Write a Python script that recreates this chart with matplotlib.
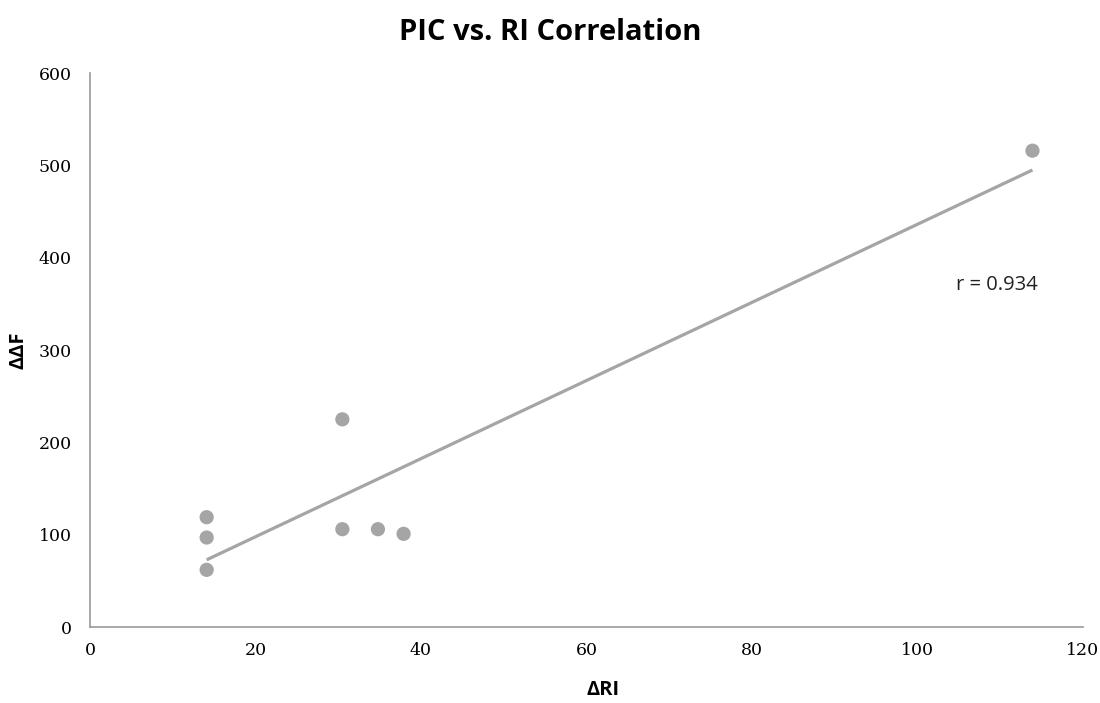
import numpy as np
import matplotlib
matplotlib.use("Agg")
import matplotlib.pyplot as plt

# data
delta_ri = [14.1, 14.1, 14.1, 30.5, 30.5, 34.8, 37.9, 113.9]
delta_df = [62, 97, 119, 225, 106, 106, 101, 516]
r_text = "r = 0.934"

x_ticks = [0, 20, 40, 60, 80, 100, 120]
y_ticks = [0, 100, 200, 300, 400, 500, 600]

grey = "#a5a5a5"

fig = plt.figure(figsize=(11, 7.03), dpi=100)
ax = fig.add_axes([0.0818, 0.108, 0.9027, 0.788])

ax.scatter(delta_ri, delta_df, s=105, color=grey, edgecolors="none", zorder=3)

# linear trendline over data range
k, b = np.polyfit(delta_ri, delta_df, 1)
xs = np.array([min(delta_ri), max(delta_ri)])
ax.plot(xs, k * xs + b, color=grey, lw=2.3, solid_capstyle="butt", zorder=2)

ax.set_xlim(0, 120)
ax.set_ylim(0, 600)
ax.set_xticks(x_ticks)
ax.set_yticks(y_ticks)
ax.tick_params(length=0, labelsize=12.5)
ax.tick_params(axis="y", pad=13)
ax.tick_params(axis="x", pad=11)
for lab in ax.get_xticklabels() + ax.get_yticklabels():
    lab.set_family("DejaVu Serif")

for s in ("top", "right"):
    ax.spines[s].set_visible(False)
for s in ("left", "bottom"):
    ax.spines[s].set_color("#999999")
    ax.spines[s].set_linewidth(1.2)

ax.text(109.6, 370, r_text, fontsize=14.5, family="Open Sans", color="#222222",
        ha="center", va="center")

fig.text(0.5, 0.954, "PIC vs. RI Correlation", fontsize=21, fontweight="bold",
         family="Open Sans", ha="center", va="center")
fig.text(0.548, 0.019, "ΔRI", fontsize=14.5, fontweight="bold",
         family="Open Sans", ha="center", va="center")
fig.text(0.017, 0.502, "ΔΔF", fontsize=14.5, fontweight="bold",
         family="Open Sans", ha="center", va="center", rotation=90)

fig.savefig("out.png", dpi=100, facecolor="white")
